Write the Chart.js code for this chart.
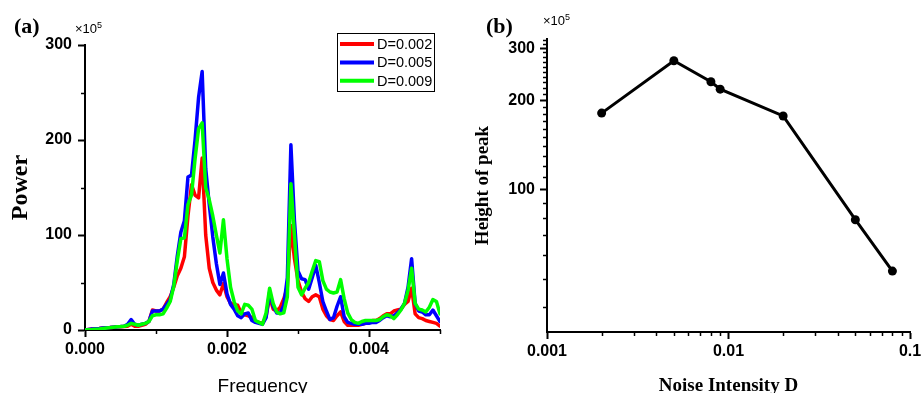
<!DOCTYPE html>
<html>
<head>
<meta charset="utf-8">
<script src="https://cdn.jsdelivr.net/npm/chart.js@4.4.0/dist/chart.umd.min.js"></script>
<style>
  body { margin: 0; background: #fff; width: 921px; height: 393px; position: relative; overflow: hidden; }
  canvas { position: absolute; top: 0; }
  #spectrum { left: 0; }
  #peaks { left: 460px; }
  .tag { position: absolute; font-family: 'Liberation Serif', 'Times New Roman', serif; font-weight: bold; font-size: 22px; line-height: 22px; }
  .mult { position: absolute; font-family: 'Liberation Sans', Arial, sans-serif; font-size: 13px; line-height: 13px; }
  .mult sup { font-size: 9px; vertical-align: 5px; line-height: 0; }
</style>
</head>
<body>
<canvas id="spectrum" width="460" height="393"></canvas>
<canvas id="peaks" width="467" height="393"></canvas>
<div class="tag" style="left:14px; top:15px;">(a)</div>
<div class="mult" style="left:75px; top:22px;">×10<sup>5</sup></div>
<div class="tag" style="left:486px; top:15px;">(b)</div>
<div class="mult" style="left:543px; top:14px;">×10<sup>5</sup></div>
<script>
// power spectrum, frequency bins
const freq = [
  0, 0.00005, 0.0001, 0.00015, 0.0002, 0.00025, 0.0003, 0.00035, 0.0004, 0.00045,
  0.0005, 0.00055, 0.0006, 0.00065, 0.0007, 0.00075, 0.0008, 0.00085, 0.0009, 0.00095,
  0.001, 0.00105, 0.0011, 0.00115, 0.0012, 0.00125, 0.0013, 0.00135, 0.0014, 0.00145,
  0.0015, 0.00155, 0.0016, 0.00165, 0.0017, 0.00175, 0.0018, 0.00185, 0.0019, 0.00195,
  0.002, 0.00205, 0.0021, 0.00215, 0.0022, 0.00225, 0.0023, 0.00235, 0.0024, 0.00245,
  0.0025, 0.00255, 0.0026, 0.00265, 0.0027, 0.00275, 0.0028, 0.00285, 0.0029, 0.00295,
  0.003, 0.00305, 0.0031, 0.00315, 0.0032, 0.00325, 0.0033, 0.00335, 0.0034, 0.00345,
  0.0035, 0.00355, 0.0036, 0.00365, 0.0037, 0.00375, 0.0038, 0.00385, 0.0039, 0.00395,
  0.004, 0.00405, 0.0041, 0.00415, 0.0042, 0.00425, 0.0043, 0.00435, 0.0044, 0.00445,
  0.0045, 0.00455, 0.0046, 0.00465, 0.0047, 0.00475, 0.0048, 0.00485, 0.0049, 0.00495, 0.005
];

// power (x10^5) for each noise level
const powerD002 = [
  0, 0.5, 1, 1.3, 1.6, 2, 2.3, 2.6, 3, 3.3,
  3.5, 3.8, 4, 6, 4, 4, 5, 6, 9, 21,
  20, 20, 22, 29, 35, 45, 57, 65, 77, 120,
  153, 142, 139, 181, 100, 65, 50, 42, 37, 49,
  35, 28, 27, 26, 18, 16, 15, 13, 9, 8,
  7, 14, 35, 22, 20, 24, 33, 45, 110, 75,
  52, 40, 33, 30, 35, 37, 35, 22, 15, 11,
  10, 15, 19, 9, 5, 5, 5, 5, 6, 7,
  8, 10, 10, 12, 15, 17, 17, 20, 21, 22,
  27, 30, 44, 17, 13, 12, 10, 9, 8, 7, 4
];
const powerD005 = [
  0, 0.5, 1, 1.3, 1.6, 2, 2.3, 2.6, 3, 3.3,
  3.6, 4, 6, 11, 6, 5, 6, 7, 9, 20,
  20, 20, 22, 27, 32, 48, 78, 103, 115, 161,
  163, 200, 245, 272, 170, 132, 98, 70, 48, 60,
  38, 27, 22, 15, 13, 17, 18, 10, 8, 7,
  6, 13, 40, 25, 18, 18, 26, 55, 195, 115,
  62, 54, 53, 43, 55, 68, 50, 30, 20, 11,
  13, 25, 35, 14, 8, 7, 6, 6, 6, 7,
  7, 8, 8, 10, 13, 15, 14, 15, 18, 22,
  28, 45, 75, 28, 20, 19, 16, 16, 21, 15, 9
];
const powerD009 = [
  0, 0.3, 0.5, 0.8, 1, 1.5, 2, 2.5, 3, 3.3,
  3.6, 4, 5, 7, 6, 5, 6, 7, 9, 15,
  16, 16, 17, 23, 30, 46, 73, 96, 97, 132,
  142, 180, 212, 218, 150, 137, 120, 100, 81, 116,
  75, 45, 30, 20, 17, 27, 26, 22, 10, 8,
  6, 18, 44, 28, 19, 17, 18, 35, 154, 100,
  45, 37, 44, 50, 62, 73, 72, 52, 43, 40,
  39, 40, 53, 33, 18, 11, 8, 7, 9, 10,
  10, 10, 10, 11, 14, 16, 15, 12, 16, 21,
  28, 42, 65, 28, 22, 21, 19, 24, 32, 30, 17
];
const seriesNames = ['D=0.002', 'D=0.005', 'D=0.009'];
const seriesColors = ['#ff0000', '#0000ff', '#00ff00'];

// peak height vs noise intensity
const noiseD = [0.002, 0.005, 0.008, 0.009, 0.02, 0.05, 0.08];
const peakHeight = [181, 272, 231, 218, 177, 79, 53];

// axis ticks
const freqTicks = [0, 0.002, 0.004];
const freqMinor = [0.001, 0.003, 0.005];
const powerTicks = [0, 100, 200, 300];
const powerMinor = [50, 150, 250];
const noiseTicks = [0.001, 0.01, 0.1];
const noiseMinor = [0.002, 0.003, 0.004, 0.005, 0.006, 0.007, 0.008, 0.009,
  0.02, 0.03, 0.04, 0.05, 0.06, 0.07, 0.08, 0.09];
const heightTicks = [100, 200, 300];
const heightMinor = [40, 50, 60, 70, 80, 90, 110, 120, 130, 140, 150, 160, 170, 180, 190,
  210, 220, 230, 240, 250, 260, 270, 280, 290, 310, 320];

const sans = "'Liberation Sans', Arial, sans-serif";
const serif = "'Liberation Serif', 'Times New Roman', serif";
const tickFont = { family: sans, size: 16, weight: 'bold' };

// short unlabelled ticks between the labelled ones
function minorTicks(id, lists) {
  return {
    id: id,
    afterDraw(chart) {
      const ctx = chart.ctx;
      ctx.save();
      ctx.strokeStyle = '#000';
      ctx.lineWidth = 1.5;
      for (const key in lists) {
        const s = chart.scales[key];
        lists[key].forEach(v => {
          const p = Math.round(s.getPixelForValue(v)) + 0.5;
          ctx.beginPath();
          if (s.isHorizontal()) {
            ctx.moveTo(p, s.top);
            ctx.lineTo(p, s.top + 4);
          } else {
            ctx.moveTo(s.right, p);
            ctx.lineTo(s.right - 4, p);
          }
          ctx.stroke();
        });
      }
      ctx.restore();
    }
  };
}

// framed legend in the upper right of the spectrum plot
const boxLegend = {
  id: 'boxLegend',
  afterDraw(chart) {
    const ctx = chart.ctx;
    const x = 337, y = 33, w = 97, h = 58;
    ctx.save();
    ctx.fillStyle = '#fff';
    ctx.fillRect(x, y, w, h);
    ctx.strokeStyle = '#000';
    ctx.lineWidth = 1;
    ctx.strokeRect(x + 0.5, y + 0.5, w, h);
    ctx.font = '14.5px ' + sans;
    ctx.textBaseline = 'middle';
    seriesNames.forEach((name, i) => {
      const ry = y + 11 + i * 18.4;
      ctx.strokeStyle = seriesColors[i];
      ctx.lineWidth = 4;
      ctx.beginPath();
      ctx.moveTo(x + 3, ry);
      ctx.lineTo(x + 37, ry);
      ctx.stroke();
      ctx.fillStyle = '#000';
      ctx.fillText(name, x + 40, ry + 1);
    });
    ctx.restore();
  }
};

function axisBase() {
  return {
    border: { display: true, color: '#000', width: 2 },
    grid: { drawOnChartArea: false, drawTicks: true, tickLength: 7, tickWidth: 2, tickColor: '#000' },
  };
}

const spectrumSets = [powerD002, powerD005, powerD009].map((vals, i) => ({
  label: seriesNames[i],
  data: vals,
  borderColor: seriesColors[i],
  backgroundColor: seriesColors[i],
  borderWidth: 3.5,
  pointRadius: 0,
  tension: 0,
  borderJoinStyle: 'round',
  borderCapStyle: 'round',
  order: 2 - i
}));

new Chart(document.getElementById('spectrum'), {
  type: 'line',
  data: { labels: freq, datasets: spectrumSets },
  options: {
    responsive: false,
    animation: false,
    layout: { padding: { top: 45, right: 20, bottom: 0, left: 0 } },
    plugins: { legend: { display: false }, tooltip: { enabled: false } },
    scales: {
      x: Object.assign(axisBase(), {
        type: 'linear', min: 0, max: 0.005,
        afterBuildTicks: s => { s.ticks = freqTicks.map(v => ({ value: v })); },
        afterFit: s => { s.height = 63; },
        ticks: { font: tickFont, color: '#000', padding: 3, maxRotation: 0, autoSkip: false,
          callback: v => Number(v).toFixed(3) },
        title: { display: true, text: 'Frequency', color: '#000',
          font: { family: sans, size: 19, lineHeight: 1 }, padding: { top: 0, bottom: -3 } }
      }),
      y: Object.assign(axisBase(), {
        min: 0, max: 300,
        afterBuildTicks: s => { s.ticks = powerTicks.map(v => ({ value: v })); },
        afterFit: s => { s.width = 85; },
        ticks: { font: tickFont, color: '#000', padding: 6, autoSkip: false, callback: v => v },
        title: { display: true, text: 'Power', color: '#000',
          font: { family: serif, size: 24, weight: 'bold', lineHeight: 1 }, padding: { top: 9, bottom: 0 } }
      })
    }
  },
  plugins: [minorTicks('minorA', { x: freqMinor, y: powerMinor }), boxLegend]
});

new Chart(document.getElementById('peaks'), {
  type: 'line',
  data: {
    datasets: [{
      data: noiseD.map((d, i) => ({ x: d, y: peakHeight[i] })),
      borderColor: '#000',
      backgroundColor: '#000',
      borderWidth: 3,
      pointRadius: 4.5,
      pointBorderWidth: 0,
      pointBackgroundColor: '#000',
      tension: 0
    }]
  },
  options: {
    responsive: false,
    animation: false,
    layout: { padding: { top: 39, right: 17, bottom: 0, left: 0 } },
    plugins: { legend: { display: false }, tooltip: { enabled: false } },
    scales: {
      x: Object.assign(axisBase(), {
        type: 'logarithmic', min: 0.001, max: 0.1,
        afterBuildTicks: s => { s.ticks = noiseTicks.map(v => ({ value: v })); },
        afterFit: s => { s.height = 61; },
        ticks: { font: tickFont, color: '#000', padding: 3, maxRotation: 0, autoSkip: false,
          callback: v => String(v) },
        title: { display: true, text: 'Noise Intensity D', color: '#000',
          font: { family: serif, size: 19, weight: 'bold', lineHeight: 1 }, padding: { top: 0, bottom: -3 } }
      }),
      y: Object.assign(axisBase(), {
        type: 'logarithmic', min: 33, max: 322,
        afterBuildTicks: s => { s.ticks = heightTicks.map(v => ({ value: v })); },
        afterFit: s => { s.width = 87; },
        ticks: { font: tickFont, color: '#000', padding: 5, autoSkip: false, callback: v => String(v) },
        title: { display: true, text: 'Height of peak', color: '#000',
          font: { family: serif, size: 19, weight: 'bold', lineHeight: 1 }, padding: { top: 14, bottom: 0 } }
      })
    }
  },
  plugins: [minorTicks('minorB', { x: noiseMinor, y: heightMinor })]
});
</script>
</body>
</html>
